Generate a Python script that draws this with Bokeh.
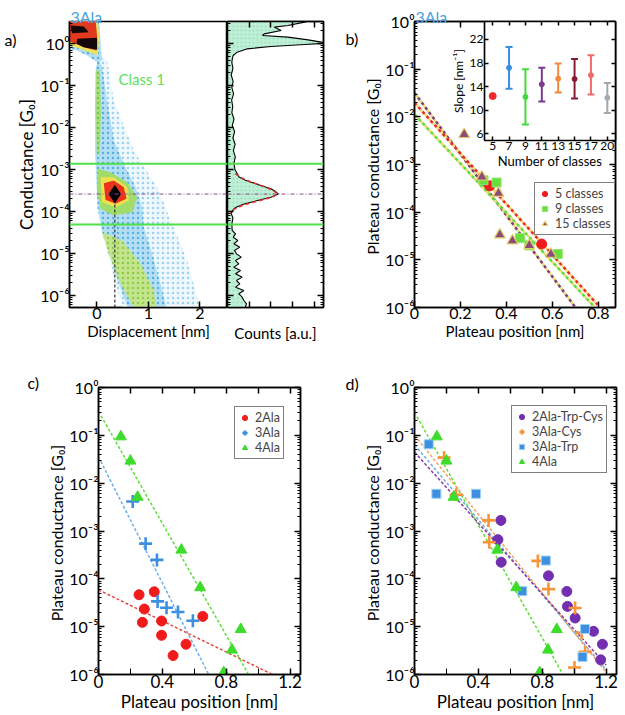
import math
from bokeh.plotting import figure
from bokeh.models import (Range1d, FactorRange, FixedTicker, CustomJSTickFormatter,
                          LinearAxis, CategoricalAxis, Label, Legend, LegendItem, Span)
from bokeh.layouts import row, column
from bokeh.embed import file_html
from bokeh.resources import INLINE

FONT = "Lato"

# ======================= DATA =======================
# (a) 2D density map, outlines of density levels: displacement [nm], log10(G/G0)
halo_x = [0.072, 0.007, -0.038, -0.038, -0.025, 0.007, 0.072, 0.201, 0.363, 0.525, 2.014, 1.755, 1.495, 1.172, 0.719, 0.330, 0.201]
halo_lg = [-0.325, -0.444, -1.357, -2.548, -3.103, -3.897, -4.373, -4.929, -5.722, -6.35, -6.35, -5.167, -4.373, -3.421, -2.548, -1.357, -0.405]
band_x = [0.039, -0.019, -0.032, -0.032, -0.012, 0.020, 0.104, 0.266, 0.428, 0.622, 1.366, 1.237, 1.075, 0.913, 0.881, 0.752, 0.557, 0.330, 0.201, 0.104]
band_lg = [-0.365, -0.563, -1.357, -2.548, -3.103, -3.897, -4.452, -5.087, -5.722, -6.35, -6.35, -5.722, -5.008, -4.373, -3.897, -3.421, -2.944, -2.310, -1.357, -0.563]
top_cyan_x = [-0.55, 0.046, 0.072, 0.104, 0.007, -0.187, -0.381, -0.55]
top_cyan_lg = [0.6, 0.6, 0.071, -0.405, -0.444, -0.286, -0.167, -0.127]
top_yellow_x = [-0.55, 0.020, 0.046, 0.020, -0.187, -0.381, -0.55]
top_yellow_lg = [0.6, 0.6, 0.151, -0.286, -0.183, -0.103, -0.048]
top_red_x = [-0.55, -0.025, 0.007, -0.006, -0.252, -0.478, -0.55]
top_red_lg = [0.6, 0.6, 0.151, -0.167, -0.087, 0.032, 0.06]
black1_x = [-0.381, 0.007, 0.007, -0.252, -0.394]
black1_lg = [0.111, 0.135, -0.151, -0.087, -0.008]
black2_x = [-0.511, -0.252, -0.155, -0.478]
black2_lg = [0.429, 0.405, 0.270, 0.246]
green_upper_x = [-0.019, 0.059, 0.085, 0.059, 0.000, -0.025]
green_upper_lg = [-0.643, -0.643, -1.595, -2.627, -2.627, -1.595]
green_lower_x = [0.169, 0.493, 0.849, 1.108, 1.172, 0.752, 0.460, 0.233, 0.104]
green_lower_lg = [-4.532, -4.690, -5.246, -5.881, -6.35, -6.35, -5.722, -5.008, -4.492]
peak_green_x = [0.020, 0.266, 0.590, 0.784, 0.687, 0.330, 0.072, 0.007]
peak_green_lg = [-2.984, -3.063, -3.302, -3.659, -4.016, -4.095, -3.937, -3.500]
peak_yellow_x = [0.072, 0.330, 0.590, 0.622, 0.363, 0.104]
peak_yellow_lg = [-3.183, -3.183, -3.421, -3.738, -3.897, -3.778]
peak_red_x = [0.136, 0.330, 0.525, 0.577, 0.363, 0.168]
peak_red_lg = [-3.325, -3.262, -3.421, -3.698, -3.817, -3.722]

# (a) 1D conductance histogram (log10 G, counts a.u.)
hist_logG = [0.60, 0.508, 0.429, 0.389, 0.31, 0.23, 0.19, 0.151, 0.087, 0.032, 0.008, -0.024, -0.071, -0.127, -0.206, -0.286, -0.365,
             -0.45, -0.6, -0.75, -0.9, -1.05, -1.2, -1.35, -1.5, -1.65, -1.8, -1.95, -2.1, -2.25, -2.4, -2.55, -2.7, -2.85, -3.0,
             -3.1, -3.18, -3.25, -3.30, -3.38, -3.46, -3.52, -3.58, -3.62, -3.66, -3.74, -3.82, -3.9, -3.94, -4.0, -4.05, -4.15, -4.3,
             -4.452, -4.532, -4.611, -4.690, -4.770, -4.849, -4.929, -5.008, -5.087, -5.167, -5.246, -5.325, -5.405, -5.484,
             -5.563, -5.643, -5.722, -5.802, -5.881, -5.960, -6.040, -6.119, -6.198, -6.262, -6.35]
hist_counts = [3.9, 3.55, 2.78, 2.16, 2.47, 1.69, 1.61, 2.78, 3.71, 4.33, 4.6, 3.55, 2.0, 0.91, 0.45, 0.26, 0.22,
               0.2, 0.25, 0.17, 0.26, 0.2, 0.28, 0.19, 0.24, 0.2, 0.3, 0.22, 0.33, 0.25, 0.35, 0.27, 0.36, 0.3, 0.34,
               0.45, 0.53, 0.8, 1.07, 1.53, 2.0, 2.2, 2.34, 2.2, 2.0, 1.38, 0.76, 0.4, 0.29, 0.2, 0.17, 0.25, 0.2,
               0.215, 0.369, 0.261, 0.476, 0.292, 0.568, 0.323, 0.415, 0.630, 0.369, 0.522, 0.292, 0.599, 0.369,
               0.676, 0.415, 0.568, 0.369, 0.753, 0.522, 0.676, 0.753, 0.876, 0.83, 0.8]
fit_logG = [-3.1, -3.2, -3.3, -3.4, -3.5, -3.58, -3.66, -3.75, -3.85, -3.95, -4.05]
fit_counts = [0.35, 0.65, 1.1, 1.65, 2.1, 2.3, 2.05, 1.4, 0.7, 0.3, 0.12]
class_bounds_G = [1.37e-3, 4.9e-5]
peak_G = 2.6e-4
peak_x = 0.35

# (b) plateau positions for different numbers of classes
b5_x = [0.327, 0.553]
b5_logG = [-3.448, -4.669]
b9_x = [0.30, 0.357, 0.458, 0.499, 0.623]
b9_logG = [-3.33, -3.379, -4.544, -4.697, -4.878]
b15_x = [0.216, 0.293, 0.365, 0.371, 0.426, 0.499, 0.593]
b15_logG = [-2.368, -3.259, -3.603, -4.473, -4.60, -4.697, -4.879]
bfit5_x = [0.0, 0.796]
bfit5_logG = [-1.705, -5.94]
bfit9_x = [0.0, 0.781]
bfit9_logG = [-1.95, -5.98]
bfit15_x = [0.0, 0.697]
bfit15_logG = [-1.496, -5.98]

# (b) inset: slope vs number of classes
classes = ["5", "7", "9", "11", "13", "15", "17", "20"]
slope = [12.4, 17.2, 12.25, 14.4, 15.35, 15.3, 15.95, 12.1]
slope_lo = [12.4, 13.65, 7.6, 11.5, 13.0, 12.0, 12.65, 9.55]
slope_hi = [12.4, 20.7, 16.95, 17.2, 17.9, 18.7, 19.3, 14.6]
class_colors = ["#ee2a2a", "#3a8ee0", "#44d838", "#7b3a8f", "#f0893c", "#861c34", "#f26a6a", "#a0a8b2"]

# (c) peptides
c2_x = [0.254, 0.349, 0.287, 0.275, 0.395, 0.395, 0.548, 0.467, 0.653]
c2_logG = [-4.333, -4.271, -4.632, -4.910, -4.882, -5.181, -5.368, -5.604, -4.785]
c3_x = [0.214, 0.295, 0.366, 0.370, 0.426, 0.498, 0.591]
c3_logG = [-2.382, -3.264, -3.604, -4.472, -4.604, -4.694, -4.875]
c4_x = [0.140, 0.200, 0.245, 0.519, 0.637, 0.891, 0.836, 0.784]
c4_logG = [-1.028, -1.535, -2.292, -3.396, -4.181, -5.056, -5.486, -5.958]
cfit2_x = [0.0, 1.09]
cfit2_logG = [-4.23, -6.0]
cfit3_x = [0.0, 0.69]
cfit3_logG = [-1.45, -6.0]
cfit4_x = [0.0, 0.94]
cfit4_logG = [-0.5, -6.0]

# (d) modified peptides
d_atc_x = [0.541, 0.5225, 0.543, 0.839, 0.954, 0.958, 1.006, 1.121, 1.177, 1.166]
d_atc_logG = [-2.778, -3.181, -3.653, -3.9375, -4.264, -4.576, -4.819, -5.097, -5.368, -5.694]
d_ac_x = [0.185, 0.260, 0.464, 0.468, 0.7725, 0.839, 1.006, 1.0475, 1.068, 1.002]
d_ac_logG = [-1.465, -2.243, -2.778, -3.236, -3.625, -4.215, -4.611, -5.125, -5.528, -5.854]
d_at_x = [0.089, 0.137, 0.385, 0.8225, 0.675, 1.068, 1.052]
d_at_logG = [-1.1875, -2.222, -2.222, -3.618, -4.257, -5.049, -5.632]
dfit_atc_x = [0.0, 1.2]
dfit_atc_logG = [-1.35, -5.8]
dfit_ac_x = [0.0, 1.2]
dfit_ac_logG = [-1.0, -5.95]
dfit_at_x = [0.0, 1.2]
dfit_at_logG = [-1.2, -5.9]
dfit_4_x = [0.0, 0.93]
dfit_4_logG = [-0.52, -6.0]

major_decades = [10.0 ** e for e in range(-6, 1)]
minor_decades = [m * 10.0 ** e for e in range(-7, 1) for m in range(2, 10)]


def G(lst):
    return [10.0 ** v for v in lst]


# ======================= HELPERS =======================
SUP_JS = """
const sup = {"-": "\u207b", "0": "\u2070", "1": "\u00b9", "2": "\u00b2", "3": "\u00b3",
             "4": "\u2074", "5": "\u2075", "6": "\u2076", "7": "\u2077", "8": "\u2078", "9": "\u2079"};
const e = String(Math.round(Math.log10(tick)));
let s = "10";
for (const c of e) { s += sup[c]; }
return s;
"""


def pow10():
    return CustomJSTickFormatter(code=SUP_JS)


def blank():
    return CustomJSTickFormatter(code="return '';")


def make_fig(w, h, xr, yr, bl, br, bt, bb, ylog=True):
    p = figure(width=w, height=h, x_range=xr, y_range=yr,
               y_axis_type="log" if ylog else "linear",
               output_backend="svg", toolbar_location=None,
               min_border_left=bl, min_border_right=br, min_border_top=bt, min_border_bottom=bb)
    p.grid.visible = False
    p.outline_line_color = "black"
    p.outline_line_width = 1.5
    p.background_fill_color = "white"
    p.border_fill_color = "white"
    return p


def style(ax, ticker=None, formatter=None, label=None, lab_size="17px", ax_size="17px",
          tick_in=6, minor_in=3, show=True, label_standoff=0, lab_standoff=0):
    if ticker is not None:
        ax.ticker = ticker
    if formatter is not None:
        ax.formatter = formatter
    if label is not None:
        ax.axis_label = label
    ax.major_tick_in = tick_in
    ax.major_tick_out = 0
    ax.minor_tick_in = minor_in
    ax.minor_tick_out = 0
    ax.axis_line_width = 1.5
    ax.axis_line_color = "black"
    ax.major_tick_line_width = 1.5
    ax.minor_tick_line_width = 1
    ax.major_label_text_font = FONT
    ax.major_label_text_font_size = lab_size
    ax.major_label_text_color = "black"
    ax.axis_label_text_font = FONT
    ax.axis_label_text_font_size = ax_size
    ax.axis_label_text_font_style = "normal"
    ax.axis_label_text_color = "black"
    ax.major_label_standoff = lab_standoff
    ax.axis_label_standoff = label_standoff
    if not show:
        ax.major_label_text_font_size = "0px"
        ax.major_label_text_color = None
        ax.major_label_standoff = 0
        ax.formatter = blank()


def mirror(p, xticker, yticker, xminor=3, yminor=3):
    top = LinearAxis()
    style(top, xticker, show=False, minor_in=xminor)
    p.add_layout(top, "above")
    right = LinearAxis()
    style(right, yticker, show=False, minor_in=yminor)
    p.add_layout(right, "right")


def style_legend(lg, size="12.5px"):
    lg.label_text_font = FONT
    lg.label_text_font_size = size
    lg.label_height = 15
    lg.glyph_height = 15
    lg.glyph_width = 13
    lg.spacing = 0
    lg.padding = 3
    lg.margin = 0
    lg.label_standoff = 4
    lg.border_line_color = "black"
    lg.border_line_width = 1
    lg.background_fill_color = "white"
    lg.background_fill_alpha = 1


def dec_ticker():
    return FixedTicker(ticks=major_decades, minor_ticks=minor_decades)


BLUE_T = "#4aa3df"

# ======================= PANEL a (density) =======================
XA = (-0.53, 2.538)
YA = (5.18e-7, 3.34)
pA = make_fig(227, 350, Range1d(*XA), Range1d(*YA), 69, 0, 21, 43)
style(pA.yaxis[0], dec_ticker(), pow10(), "Conductance [G\u2080]", lab_size="16px", ax_size="17px",
      lab_standoff=0)
style(pA.xaxis[0], FixedTicker(ticks=[0, 1, 2]), None, "Displacement [nm]", lab_size="16px", ax_size="15px")

layers = [
    (halo_x, halo_lg, "#eef8fd", "#86c9ee", 1.0),
    (band_x, band_lg, "#b4def3", "#3fa6e0", 1.0),
    (top_cyan_x, top_cyan_lg, "#b4def3", "#3fa6e0", 1.0),
    (top_yellow_x, top_yellow_lg, "#eee35a", None, 1.0),
    (top_red_x, top_red_lg, "#e23a1e", None, 1.0),
    (black1_x, black1_lg, "#140808", None, 1.0),
    (black2_x, black2_lg, "#140808", None, 1.0),
    (green_upper_x, green_upper_lg, "#a6de7a", "#6cc040", 0.9),
    (green_lower_x, green_lower_lg, "#c4e67a", "#88c83a", 0.85),
    (peak_green_x, peak_green_lg, "#a2dc6a", None, 1.0),
    (peak_yellow_x, peak_yellow_lg, "#f1e04e", None, 1.0),
    (peak_red_x, peak_red_lg, "#e8341e", None, 1.0),
]
for lx, ly, col, hcol, a in layers:
    if hcol is None:
        pA.patch(lx, G(ly), fill_color=col, fill_alpha=a, line_color=None)
    else:
        pA.patch(lx, G(ly), fill_color=col, fill_alpha=a, line_color=None,
                 hatch_pattern="dot", hatch_color=hcol, hatch_scale=5, hatch_weight=1.2, hatch_alpha=0.8)

for gb in class_bounds_G:
    pA.add_layout(Span(location=gb, dimension="width", line_color="#4fe04a", line_width=2))
pA.add_layout(Span(location=peak_G, dimension="width", line_color="#8a4f8a", line_width=1,
                   line_dash="4 2 1 2"))
pA.segment(x0=[peak_x], y0=[YA[0]], x1=[peak_x], y1=[peak_G], line_color="#333333",
           line_width=1.2, line_dash="3 2")
pA.scatter([peak_x], [peak_G], marker="diamond", size=17, color="black")
pA.add_layout(Label(x=0.42, y=10 ** -0.85, text="Class 1", text_color="#5de05a",
                    text_font=FONT, text_font_size="15px", text_baseline="middle"))

# ======================= PANEL a (histogram) =======================
pH = make_fig(100, 350, Range1d(0, 4.42), Range1d(*YA), 0, 4, 21, 43)
style(pH.yaxis[0], dec_ticker(), show=False)
style(pH.xaxis[0], FixedTicker(ticks=[1, 2, 3, 4]), None, "Counts [a.u.]", ax_size="15px", show=False,
      label_standoff=16)
top = LinearAxis()
style(top, FixedTicker(ticks=[1, 2, 3, 4]), show=False)
pH.add_layout(top, "above")
rgt = LinearAxis()
style(rgt, dec_ticker(), show=False)
pH.add_layout(rgt, "right")
pH.harea(x1=[0] * len(hist_counts), x2=hist_counts, y=G(hist_logG), fill_color="#bff0d6",
         hatch_pattern="dot", hatch_color="#8fd8b4", hatch_scale=4, hatch_weight=1, hatch_alpha=0.7)
pH.line(hist_counts, G(hist_logG), line_color="black", line_width=1.1)
pH.line(fit_counts, G(fit_logG), line_color="#e8302a", line_width=1.6, line_dash="4 3")
for gb in class_bounds_G:
    pH.add_layout(Span(location=gb, dimension="width", line_color="#4fe04a", line_width=2))
pH.add_layout(Span(location=peak_G, dimension="width", line_color="#8a4f8a", line_width=1,
                   line_dash="4 2 1 2"))

# ======================= PANEL b =======================
XB = (0, 0.874)
YB = (1e-6, 1)
pB = make_fig(298, 350, Range1d(*XB), Range1d(*YB), 87, 10, 21, 43)
style(pB.yaxis[0], dec_ticker(), pow10(), "Plateau  conductance [G\u2080]", lab_size="16px", ax_size="16px",
      lab_standoff=0)
style(pB.xaxis[0], FixedTicker(ticks=[0, 0.2, 0.4, 0.6, 0.8]), None, "Plateau position [nm]",
      lab_size="16px", ax_size="15px")
mirror(pB, FixedTicker(ticks=[0.2, 0.4, 0.6, 0.8]), dec_ticker())

for fx, fl, col in [(bfit15_x, bfit15_logG, "#7d3f78"), (bfit5_x, bfit5_logG, "#ec2a22"),
                    (bfit9_x, bfit9_logG, "#5ade3a")]:
    pB.line(fx, G(fl), line_color="#f0dc78", line_width=2.6, line_dash="3 3", line_dash_offset=3)
    pB.line(fx, G(fl), line_color=col, line_width=2.6, line_dash="3 3")

r5 = pB.scatter(b5_x, G(b5_logG), marker="circle", size=10, fill_color="#ee1c1c", line_color="#ee1c1c")
r9 = pB.scatter(b9_x, G(b9_logG), marker="square", size=9, fill_color="#6ade3f", line_color="#8fe86a")
r15 = pB.scatter(b15_x, G(b15_logG), marker="triangle", size=11, fill_color="#8b4c7c",
                 line_color="#e6cf6a", line_width=1.2)
lgB = Legend(items=[LegendItem(label="5 classes", renderers=[r5]),
                    LegendItem(label="9 classes", renderers=[r9]),
                    LegendItem(label="15 classes", renderers=[r15])], location=(120, 72))
style_legend(lgB)
pB.add_layout(lgB)

# ======================= PANEL b inset =======================
pI = figure(width=174, height=157, x_range=FactorRange(*classes), y_range=Range1d(4.87, 25.04),
            output_backend="svg", toolbar_location=None,
            min_border_left=41, min_border_right=2, min_border_top=0, min_border_bottom=38)
pI.grid.visible = False
pI.outline_line_color = "black"
pI.outline_line_width = 1.2
pI.background_fill_color = "white"
pI.border_fill_alpha = 0
style(pI.yaxis[0], FixedTicker(ticks=[6, 10, 14, 18, 22]), None, "Slope [nm\u207b\u00b9]",
      lab_size="12px", ax_size="12px", tick_in=4, lab_standoff=1, label_standoff=1)
style(pI.xaxis[0], None, None, "Number of classes", lab_size="12px", ax_size="13px", tick_in=4,
      lab_standoff=1)
itop = CategoricalAxis()
style(itop, None, None, None, tick_in=4)
itop.major_label_text_font_size = "0px"
itop.major_label_text_color = None
itop.major_label_standoff = 0
pI.add_layout(itop, "above")
iright = LinearAxis()
style(iright, FixedTicker(ticks=[6, 10, 14, 18, 22]), show=False, tick_in=4)
pI.add_layout(iright, "right")
bars = [i for i in range(len(classes)) if slope_hi[i] > slope_lo[i]]
pI.segment(x0=[classes[i] for i in bars], y0=[slope_lo[i] for i in bars],
           x1=[classes[i] for i in bars], y1=[slope_hi[i] for i in bars],
           line_color=[class_colors[i] for i in bars], line_width=2)
pI.scatter([classes[i] for i in bars], [slope_lo[i] for i in bars], marker="dash", size=7,
           line_color=[class_colors[i] for i in bars], line_width=2)
pI.scatter([classes[i] for i in bars], [slope_hi[i] for i in bars], marker="dash", size=7,
           line_color=[class_colors[i] for i in bars], line_width=2)
pI.scatter(classes, slope, marker="circle", size=[7] + [5] * (len(classes) - 1),
           color=class_colors)

# ======================= PANEL c =======================
XC = (0, 1.265)
YC = (1e-6, 1)
pC = make_fig(327, 365, Range1d(*XC), Range1d(*YC), 98, 27, 37, 41)
style(pC.yaxis[0], dec_ticker(), pow10(), "Plateau  conductance [G\u2080]", lab_size="16px", ax_size="16px",
      lab_standoff=0)
style(pC.xaxis[0], FixedTicker(ticks=[0, 0.4, 0.8, 1.2], minor_ticks=[0.2, 0.6, 1.0]), None,
      "Plateau position [nm]", lab_size="17px", ax_size="17px", minor_in=6)
mirror(pC, FixedTicker(ticks=[0.2, 0.4, 0.6, 0.8, 1.0, 1.2]), dec_ticker())
for fx, fl, col in [(cfit2_x, cfit2_logG, "#e84a40"), (cfit3_x, cfit3_logG, "#6aaeea"),
                    (cfit4_x, cfit4_logG, "#5ede3a")]:
    pC.line(fx, G(fl), line_color=col, line_width=1.5, line_dash="3 2")
rc2 = pC.scatter(c2_x, G(c2_logG), marker="circle", size=10, color="#f01c1c")
rc3 = pC.scatter(c3_x, G(c3_logG), marker="cross", size=13, line_color="#3d8fe0", line_width=2.6)
rc4 = pC.scatter(c4_x, G(c4_logG), marker="triangle", size=11, color="#3ddc2a")
lgC = Legend(items=[LegendItem(label="2Ala", renderers=[rc2]),
                    LegendItem(label="3Ala", renderers=[rc3]),
                    LegendItem(label="4Ala", renderers=[rc4])], location=(136, 215))
style_legend(lgC)
pC.add_layout(lgC)

# ======================= PANEL d =======================
pD = make_fig(298, 365, Range1d(*XC), Range1d(*YC), 87, 9, 37, 41)
style(pD.yaxis[0], dec_ticker(), pow10(), "Plateau  conductance [G\u2080]", lab_size="16px", ax_size="16px",
      lab_standoff=0)
style(pD.xaxis[0], FixedTicker(ticks=[0, 0.4, 0.8, 1.2], minor_ticks=[0.2, 0.6, 1.0]), None,
      "Plateau position [nm]", lab_size="17px", ax_size="17px", minor_in=6)
mirror(pD, FixedTicker(ticks=[0.2, 0.4, 0.6, 0.8, 1.0, 1.2]), dec_ticker())
for fx, fl, col in [(dfit_4_x, dfit_4_logG, "#5ede3a"), (dfit_at_x, dfit_at_logG, "#6aaeea"),
                    (dfit_ac_x, dfit_ac_logG, "#f5a060"), (dfit_atc_x, dfit_atc_logG, "#8a3aa0")]:
    pD.line(fx, G(fl), line_color=col, line_width=1.5, line_dash="3 2")
rd1 = pD.scatter(d_atc_x, G(d_atc_logG), marker="circle", size=10, color="#7230b0")
rd2 = pD.scatter(d_ac_x, G(d_ac_logG), marker="cross", size=13, line_color="#f6953a", line_width=2.6)
rd3 = pD.scatter(d_at_x, G(d_at_logG), marker="square", size=9, fill_color="#3d8fe0", line_color="#9dd0f5")
rd4 = pD.scatter(c4_x, G(c4_logG), marker="triangle", size=11, color="#3ddc2a")
lgD = Legend(items=[LegendItem(label="2Ala-Trp-Cys", renderers=[rd1]),
                    LegendItem(label="3Ala-Cys", renderers=[rd2]),
                    LegendItem(label="3Ala-Trp", renderers=[rd3]),
                    LegendItem(label="4Ala", renderers=[rd4])], location=(97, 201))
style_legend(lgD)
pD.add_layout(lgD)

# ======================= transparent overlay for panel letters and titles =======================
pO = figure(width=625, height=715, x_range=Range1d(0, 625), y_range=Range1d(715, 0),
            output_backend="svg", toolbar_location=None, title=None,
            x_axis_location=None, y_axis_location=None, min_border=0)
pO.grid.visible = False
pO.outline_line_color = None
pO.background_fill_alpha = 0
pO.border_fill_alpha = 0
for tx, px, py, col in [("a)", 4, 39, "black"), ("3Ala", 70, 16, BLUE_T), ("b)", 345, 38, "black"),
                        ("3Ala", 415, 16, BLUE_T), ("c)", 27, 382, "black"), ("d)", 345, 383, "black")]:
    pO.add_layout(Label(x=px, y=py, text=tx, text_color=col, text_font=FONT, text_font_size="16px",
                        text_baseline="alphabetic"))

layout = column(row(pA, pH, pB), row(pC, pD),
                row(pI, margin=(21 - 715, 0, 0, 443)),
                row(pO, margin=(-(21 + 157), 0, 0, 0)))
open("out.html", "w").write(file_html(layout, INLINE))
